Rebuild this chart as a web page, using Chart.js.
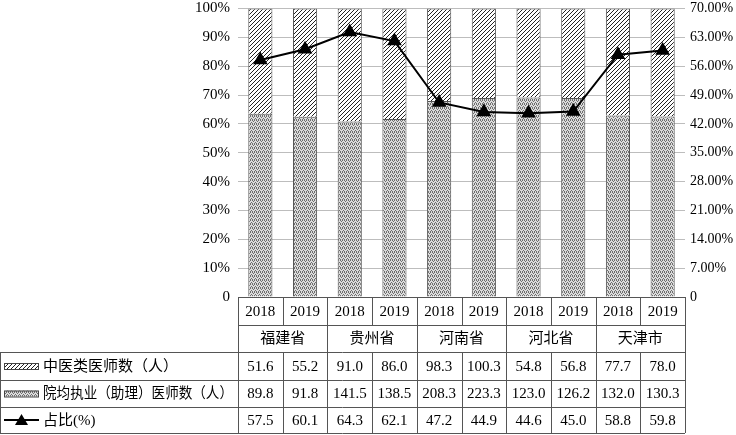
<!DOCTYPE html>
<html>
<head>
<meta charset="utf-8">
<script src="https://cdn.jsdelivr.net/npm/chart.js@4"></script>
<style>
  html, body { margin: 0; padding: 0; background: #fff; }
  #wrap { width: 736px; height: 435px; }
</style>
</head>
<body>
<div id="wrap"><canvas id="chart1"></canvas></div>
<script>
const years = ["2018", "2019", "2018", "2019", "2018", "2019", "2018", "2019", "2018", "2019"];
const provinces = ["福建省", "贵州省", "河南省", "河北省", "天津市"];
const tcm_doctors = [51.6, 55.2, 91.0, 86.0, 98.3, 100.3, 54.8, 56.8, 77.7, 78.0];
const avg_doctors = [89.8, 91.8, 141.5, 138.5, 208.3, 223.3, 123.0, 126.2, 132.0, 130.3];
const ratio = [57.5, 60.1, 64.3, 62.1, 47.2, 44.9, 44.6, 45.0, 58.8, 59.8];
const row_names = ["中医类医师数（人）", "院均执业（助理）医师数（人）", "占比(%)"];

const FONT = "'Liberation Serif', 'Noto Sans CJK SC', serif";

// share of each part in the stacked 100% bars
const tcm_pct = tcm_doctors.map((v, i) => v / (v + avg_doctors[i]) * 100);
const avg_pct = avg_doctors.map((v, i) => v / (v + tcm_doctors[i]) * 100);

function hatch_pattern() {
    const c = document.createElement("canvas");
    c.width = 4; c.height = 4;
    const g = c.getContext("2d");
    g.fillStyle = "#fff";
    g.fillRect(0, 0, 4, 4);
    g.strokeStyle = "#222";
    g.lineWidth = 1;
    g.beginPath();
    g.moveTo(0, 4); g.lineTo(4, 0);
    g.moveTo(-1, 1); g.lineTo(1, -1);
    g.moveTo(3, 5); g.lineTo(5, 3);
    g.stroke();
    return g.createPattern(c, "repeat");
}

function knit_pattern() {
    const c = document.createElement("canvas");
    c.width = 4; c.height = 4;
    const g = c.getContext("2d");
    g.fillStyle = "#dcdcdc";
    g.fillRect(0, 0, 4, 4);
    g.fillStyle = "#6e6e6e";
    g.fillRect(0, 0, 1, 1);
    g.fillRect(2, 0, 1, 1);
    g.fillRect(1, 1, 1, 1);
    g.fillRect(3, 2, 1, 1);
    g.fillRect(0, 3, 1, 1);
    g.fillRect(2, 3, 1, 1);
    return g.createPattern(c, "repeat");
}

const hatch = hatch_pattern();
const knit = knit_pattern();

// table under the plot, columns follow the x scale
const tablePlugin = {
    id: "table",
    afterDraw(chart) {
        const ctx = chart.ctx;
        const area = chart.chartArea;
        const left = area.left, right = area.right;
        const n = years.length;
        const colW = (right - left) / n;
        const rows = [area.bottom, 325, 352, 380, 407, 433];
        ctx.save();
        ctx.strokeStyle = "#555";
        ctx.lineWidth = 1;
        ctx.beginPath();
        // horizontal lines
        ctx.moveTo(left, rows[0] + 0.5); ctx.lineTo(right, rows[0] + 0.5);
        ctx.moveTo(left, rows[1] + 0.5); ctx.lineTo(right, rows[1] + 0.5);
        for (let r = 2; r < rows.length; r++) {
            ctx.moveTo(0, rows[r] + 0.5); ctx.lineTo(right, rows[r] + 0.5);
        }
        // vertical lines
        for (let i = 0; i <= n; i++) {
            const x = Math.round(left + i * colW) + 0.5;
            ctx.moveTo(x, rows[0]);
            ctx.lineTo(x, rows[1]);
            if (i % 2 == 0) {
                ctx.moveTo(x, rows[1]);
                ctx.lineTo(x, rows[2]);
            }
            ctx.moveTo(x, rows[2]);
            ctx.lineTo(x, rows[5]);
        }
        ctx.moveTo(0.5, rows[2]); ctx.lineTo(0.5, rows[5]);
        ctx.stroke();

        ctx.fillStyle = "#000";
        ctx.font = "15px " + FONT;
        ctx.textAlign = "center";
        ctx.textBaseline = "middle";
        for (let i = 0; i < n; i++) {
            const cx = left + (i + 0.5) * colW;
            ctx.fillText(years[i], cx, (rows[0] + rows[1]) / 2 + 1);
            ctx.fillText(tcm_doctors[i].toFixed(1), cx, (rows[2] + rows[3]) / 2 + 1);
            ctx.fillText(avg_doctors[i].toFixed(1), cx, (rows[3] + rows[4]) / 2 + 1);
            ctx.fillText(ratio[i].toFixed(1), cx, (rows[4] + rows[5]) / 2 + 1);
        }
        for (let p = 0; p < provinces.length; p++) {
            const cx = left + (p * 2 + 1) * colW;
            ctx.fillText(provinces[p], cx, (rows[1] + rows[2]) / 2 + 1);
        }

        // legend column
        ctx.textAlign = "left";
        const maxW = left - 43 - 5;
        for (let r = 0; r < 3; r++) {
            const cy = (rows[r + 2] + rows[r + 3]) / 2;
            ctx.fillStyle = "#000";
            const w = ctx.measureText(row_names[r]).width;
            if (w > maxW) {
                ctx.save();
                ctx.translate(43, 0);
                ctx.scale(maxW / w, 1);
                ctx.fillText(row_names[r], 0, cy + 1);
                ctx.restore();
            } else {
                ctx.fillText(row_names[r], 43, cy + 1);
            }
            if (r < 2) {
                ctx.fillStyle = r == 0 ? hatch : knit;
                ctx.fillRect(4, cy - 3, 35, 6);
                ctx.strokeStyle = "#444";
                ctx.lineWidth = 1;
                ctx.strokeRect(4.5, cy - 2.5, 34, 6);
            } else {
                ctx.strokeStyle = "#000";
                ctx.lineWidth = 2;
                ctx.beginPath();
                ctx.moveTo(4, cy); ctx.lineTo(39, cy);
                ctx.stroke();
                ctx.fillStyle = "#000";
                ctx.beginPath();
                ctx.moveTo(21.5, cy - 6);
                ctx.lineTo(28, cy + 5);
                ctx.lineTo(15, cy + 5);
                ctx.closePath();
                ctx.fill();
            }
        }
        ctx.restore();
    }
};

const ctx = document.getElementById("chart1");
new Chart(ctx, {
    data: {
        labels: years,
        datasets: [{
            type: "line",
            label: "占比(%)",
            data: ratio,
            yAxisID: "y1",
            borderColor: "#000",
            borderWidth: 2,
            backgroundColor: "#000",
            pointStyle: "triangle",
            pointRadius: 6.5,
            tension: 0,
            order: 0
        }, {
            type: "bar",
            label: "院均执业（助理）医师数（人）",
            data: avg_pct,
            backgroundColor: knit,
            borderColor: "#555",
            borderWidth: 1,
            stack: "s",
            categoryPercentage: 0.54,
            barPercentage: 1,
            order: 1
        }, {
            type: "bar",
            label: "中医类医师数（人）",
            data: tcm_pct,
            backgroundColor: hatch,
            borderColor: "#555",
            borderWidth: 1,
            stack: "s",
            categoryPercentage: 0.54,
            barPercentage: 1,
            order: 1
        }]
    },
    plugins: [tablePlugin],
    options: {
        responsive: true,
        maintainAspectRatio: false,
        animation: { duration: 0 },
        layout: { padding: { top: 0, bottom: 138, left: 0, right: 0 } },
        plugins: {
            legend: { display: false },
            tooltip: { enabled: false }
        },
        scales: {
            x: {
                stacked: true,
                afterFit: (scale) => { scale.height = 0; },
                grid: { display: false },
                border: { display: false },
                ticks: { display: false }
            },
            y: {
                stacked: true,
                min: 0,
                max: 100,
                afterFit: (scale) => { scale.width = 238; },
                border: { display: false },
                grid: { color: "#bdbdbd", lineWidth: 1, drawTicks: true, tickLength: 8, tickColor: "transparent" },
                ticks: {
                    stepSize: 10,
                    padding: 0,
                    color: "#000",
                    font: { family: FONT, size: 15, lineHeight: 1.1 },
                    callback: (v) => v == 0 ? "0" : v + "%"
                }
            },
            y1: {
                position: "right",
                min: 0,
                max: 70,
                afterFit: (scale) => { scale.width = 51; },
                border: { display: false },
                grid: { drawOnChartArea: false, drawTicks: true, tickLength: 5, tickColor: "transparent" },
                ticks: {
                    stepSize: 7,
                    padding: 0,
                    color: "#000",
                    font: { family: FONT, size: 14, lineHeight: 1.1 },
                    callback: (v) => v == 0 ? "0" : v.toFixed(2) + "%"
                }
            }
        }
    }
});
</script>
</body>
</html>
